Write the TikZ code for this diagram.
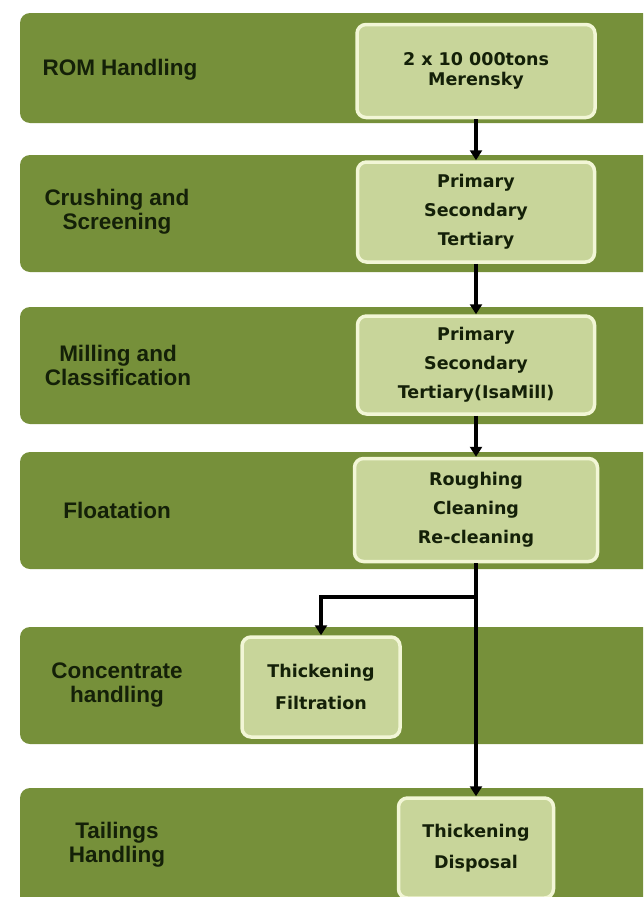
\documentclass[tikz,border=0pt]{standalone}
\usepackage{fontspec}
\setmainfont{Liberation Sans}
\newfontfamily\boxfont{DejaVu Sans}
\usetikzlibrary{arrows.meta}
\definecolor{bandgreen}{HTML}{76903A}
\definecolor{boxgreen}{HTML}{C8D59A}
\definecolor{boxrim}{HTML}{F2F6D6}
\definecolor{inkgreen}{HTML}{142008}
\begin{document}
\begin{tikzpicture}[x=1pt, y=-1pt,
  band/.style={fill=bandgreen, rounded corners=10pt},
  stage/.style={font=\bfseries\fontsize{22.5}{24}\selectfont, text=inkgreen, align=center},
  unit/.style={draw=boxrim, line width=3.5pt, fill=boxgreen, rounded corners=9pt,
    font=\boxfont\bfseries\fontsize{17.5}{#1}\selectfont, text=inkgreen, align=center, inner sep=0pt},
  unit/.default=29,
  flow/.style={line width=3.4pt, -{Triangle[length=10pt,width=12pt]}}]
  \useasboundingbox (0,0) rectangle (643,897);
  \clip (0,0) rectangle (643,897);
  % stage bands
  \foreach \t/\b in {13/123,155/272,307/424,452/569,627/744,788/915} {
    \fill[band] (20,\t) rectangle (680,\b);
  }
  % stage names
  \node[stage] (lrom) at (120,70) {ROM Handling};
  \node[stage] (lcrush) at (117,212) {Crushing and\\Screening};
  \node[stage] (lmill) at (118,365) {Milling and\\Classification};
  \node[stage] (lfloat) at (117,510) {Floatation};
  \node[stage] (lconc) at (117,685) {Concentrate\\handling};
  \node[stage] (ltail) at (117,845) {Tailings\\Handling};
  % units
  \node[unit=20, minimum width=238pt, minimum height=93pt] (rom) at (476,71) {2 x 10 000tons\\Merensky};
  \node[unit, minimum width=237pt, minimum height=100pt] (crush) at (476,212) {Primary\\Secondary\\Tertiary};
  \node[unit, minimum width=237pt, minimum height=98pt] (mill) at (476,365) {Primary\\Secondary\\Tertiary(IsaMill)};
  \node[unit, minimum width=243pt, minimum height=103pt] (float) at (476,510) {Roughing\\Cleaning\\Re-cleaning};
  \node[unit=32, minimum width=158pt, minimum height=100pt] (conc) at (321,687) {Thickening\\Filtration};
  \node[unit=31, minimum width=155pt, minimum height=100pt] (tail) at (476,848) {Thickening\\Disposal};
  % flow
  \coordinate (split) at (476,597);
  \draw[flow] (rom) -- (crush);
  \draw[flow] (crush) -- (mill);
  \draw[flow] (mill) -- (float);
  \draw[line width=3.4pt] (float.south) -- (split);
  \draw[flow] (split) -| (conc.north);
  \draw[flow] (split) -- (tail.north);
\end{tikzpicture}
\end{document}
